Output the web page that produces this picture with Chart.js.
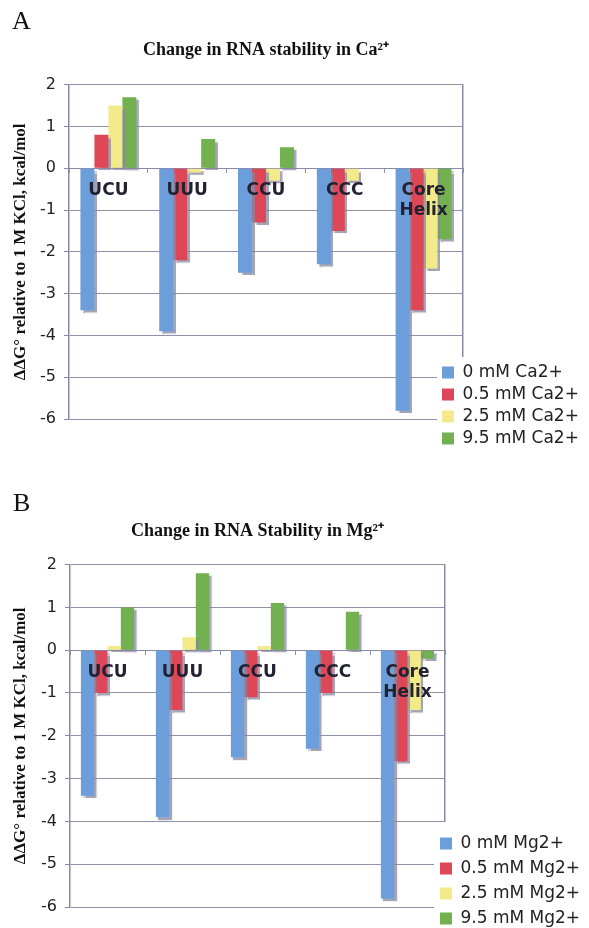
<!DOCTYPE html>
<html><head><meta charset="utf-8">
<script src="https://cdn.jsdelivr.net/npm/chart.js@4.4.1/dist/chart.umd.min.js"></script>
<style>
html,body{margin:0;padding:0;background:#fff;width:589px;height:928px;overflow:hidden}
.panel{position:absolute;left:0;width:589px}
.letter{position:absolute;font-family:"Liberation Serif","Times New Roman",serif;font-size:26px;line-height:26px;color:#111;z-index:2}
</style></head><body>
<div class="panel" style="top:0;height:465px"><canvas id="chartA" width="589" height="465" style="width:589px;height:465px"></canvas></div>
<div class="panel" style="top:465px;height:463px"><canvas id="chartB" width="589" height="463" style="width:589px;height:463px"></canvas></div>
<div class="letter" style="left:12px;top:8px">A</div>
<div class="letter" style="left:13px;top:490px">B</div>
<script>
// ---- data ----
const categories = ['UCU', 'UUU', 'CCU', 'CCC', ['Core', 'Helix']];
const yTicks = [2, 1, 0, -1, -2, -3, -4, -5, -6];
const caSeriesLabels = ['0 mM Ca2+', '0.5 mM Ca2+', '2.5 mM Ca2+', '9.5 mM Ca2+'];
const mgSeriesLabels = ['0 mM Mg2+', '0.5 mM Mg2+', '2.5 mM Mg2+', '9.5 mM Mg2+'];
const ca0  = [-3.4, -3.9, -2.5, -2.3, -5.8];
const ca05 = [0.8, -2.2, -1.3, -1.5, -3.4];
const ca25 = [1.5, -0.1, -0.3, -0.3, -2.4];
const ca95 = [1.7, 0.7, 0.5, 0, -1.7];
const mg0  = [-3.4, -3.9, -2.5, -2.3, -5.8];
const mg05 = [-1.0, -1.4, -1.1, -1.0, -2.6];
const mg25 = [0.1, 0.3, 0.1, 0, -1.4];
const mg95 = [1.0, 1.8, 1.1, 0.9, -0.2];
const titleA = 'Change in RNA stability in Ca\u00B2\u207A';
const titleB = 'Change in RNA Stability in Mg\u00B2\u207A';
const yAxisTitle = '\u0394\u0394G\u00B0 relative to 1 M KCl, kcal/mol';

// ---- styles ----
const barColors = ['#6b9edb', '#dd4757', '#f3eb8a', '#73b04f'];
const gridColor = 'rgba(125,125,150,0.85)';
const axisColor = '#8a8aa8';

function customLayout(g) {
  return {
    id: 'customLayout',
    afterInit(chart) {
      const lg = chart.legend;
      const fit = lg.fit;
      lg.fit = function () { fit.call(this); this._natW = this.width; this.width = 0; };
      lg._layers = function () {
        return [{ z: 2, draw(ca) {
          const ctx = chart.ctx;
          ctx.save();
          ctx.fillStyle = '#ffffff';
          ctx.fillRect(g.maskLeft, g.maskTop, chart.width - g.maskLeft, chart.height - g.maskTop);
          ctx.restore();
          lg.draw(ca);
        } }];
      };
    },
    afterLayout(chart) {
      const ca = chart.chartArea;
      const t = chart.titleBlock;
      if (t) { t.left = ca.left; t.right = ca.right; t.width = ca.right - ca.left; }
      const lg = chart.legend;
      lg.left = g.legendLeft; lg.right = chart.width; lg.width = lg.right - lg.left;
      lg.bottom = g.legendBottom; lg.top = g.legendBottom - 140; lg.height = 140;
    },
    beforeDatasetsDraw(chart) {
      const ctx = chart.ctx;
      ctx.save();
      ctx.shadowColor = 'rgba(135,135,160,0.75)';
      ctx.shadowOffsetX = 2.5;
      ctx.shadowOffsetY = 2.5;
      ctx.shadowBlur = 1;
    },
    afterDatasetsDraw(chart) { chart.ctx.restore(); }
  };
}

function makeChart(id, title, seriesLabels, series, g) {
  return new Chart(document.getElementById(id), {
    type: 'bar',
    data: {
      labels: categories,
      datasets: series.map((d, i) => ({
        label: seriesLabels[i], data: d, backgroundColor: barColors[i],
        borderWidth: 0, categoryPercentage: 0.71, barPercentage: 1.0
      }))
    },
    options: {
      responsive: false, animation: false, devicePixelRatio: 1,
      layout: { padding: { left: 0, right: g.padRight, top: 0, bottom: g.padBottom } },
      plugins: {
        tooltip: { enabled: false },
        title: {
          display: true, text: title, color: '#111',
          font: { family: '"Liberation Serif", "Times New Roman", serif', size: 18, weight: 'bold' },
          padding: { top: g.titleTop, bottom: g.titleBottom }
        },
        legend: {
          display: true, position: 'right', align: 'end',
          labels: {
            boxWidth: 12, boxHeight: 12, padding: g.legendPad, color: '#222',
            font: { family: '"DejaVu Sans", Verdana, sans-serif', size: 17 }
          }
        }
      },
      scales: {
        x: {
          axis: 'x', position: { y: 0 },
          grid: { display: true, drawOnChartArea: false, drawTicks: true, tickLength: 4, color: gridColor, offset: true },
          border: { display: true, color: axisColor, width: 1 },
          ticks: { z: 1, padding: 8, color: '#222230', maxRotation: 0, autoSkip: false,
            font: { family: '"DejaVu Sans", Verdana, sans-serif', size: 17, weight: 'bold', lineHeight: 1.2 } }
        },
        y: {
          position: 'left', min: Math.min(...yTicks), max: Math.max(...yTicks),
          afterFit: (s) => { s.width = g.axisLeft; },
          grid: { color: gridColor, borderDash: [3, 2], drawTicks: true, tickLength: 5, tickColor: axisColor, tickBorderDash: [] },
          border: { display: true, color: axisColor, width: 1.5 },
          ticks: { stepSize: 1, padding: 8, color: '#222', font: { family: '"DejaVu Sans", Verdana, sans-serif', size: 16 } },
          title: { display: true, text: yAxisTitle, color: '#111', padding: { top: 10, bottom: 0 },
            font: { family: '"Liberation Serif", "Times New Roman", serif', size: 17, weight: 'bold' } }
        },
        y2: {
          position: 'right', display: true,
          afterFit: (s) => { s.width = 0; },
          grid: { display: false }, ticks: { display: false },
          border: { display: true, color: axisColor, width: 1.5 }
        }
      }
    },
    plugins: [customLayout(g)]
  });
}

makeChart('chartA', titleA, caSeriesLabels, [ca0, ca05, ca25, ca95], {
  padRight: 126, padBottom: 46, titleTop: 40, titleBottom: 23, axisLeft: 69,
  legendLeft: 437, legendBottom: 452, legendPad: 5, maskLeft: 437, maskTop: 357
});
makeChart('chartB', titleB, mgSeriesLabels, [mg0, mg05, mg25, mg95], {
  padRight: 144, padBottom: 21, titleTop: 56, titleBottom: 22, axisLeft: 70,
  legendLeft: 432, legendBottom: 470, legendPad: 8, maskLeft: 434, maskTop: 357
});
</script>
</body></html>
